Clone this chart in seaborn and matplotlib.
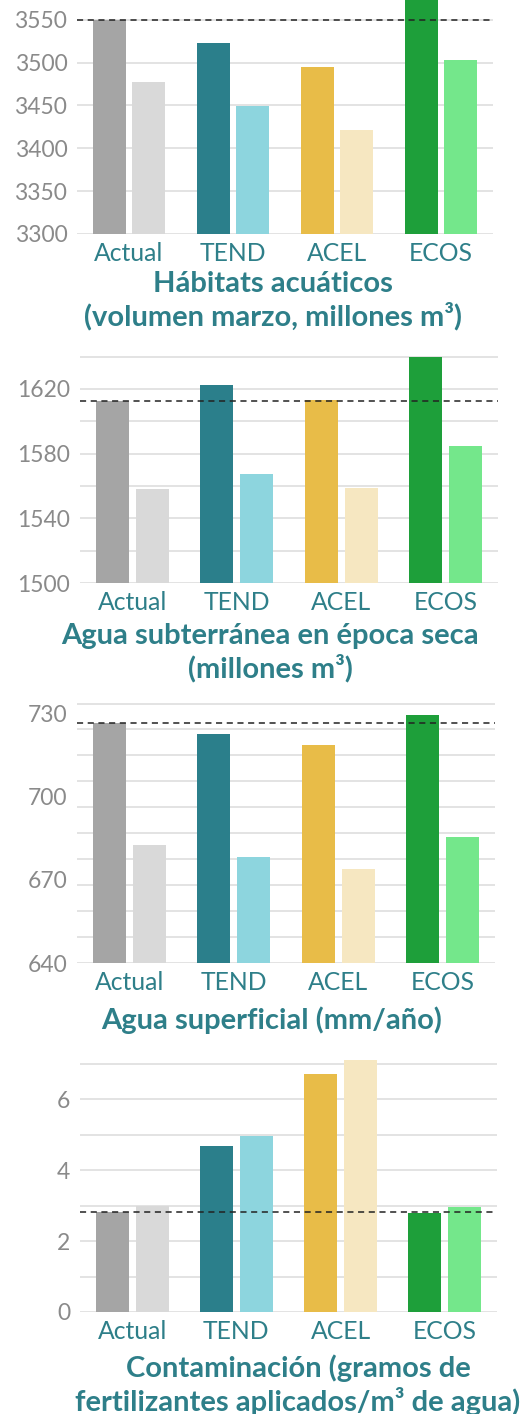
import numpy as np
import pandas as pd
import matplotlib.pyplot as plt
import matplotlib.ticker as mticker
import seaborn as sns

# scenarios and values (dark bar = first series, light bar = second series)
escenarios = ["Actual", "TEND", "ACEL", "ECOS"]
series = ["clima_actual", "cambio_climatico"]

habitat_a = [3550, 3523, 3495, 3590]
habitat_b = [3477, 3449, 3421, 3503]
subterranea_a = [1612.5, 1622.5, 1613, 1640]
subterranea_b = [1558, 1567.5, 1559, 1584.5]
superficial_a = [726.6, 722.5, 718.6, 729.3]
superficial_b = [682.6, 678.3, 674.0, 685.5]
contaminacion_a = [2.82, 4.69, 6.73, 2.80]
contaminacion_b = [3.00, 4.98, 7.10, 2.97]

titulos = [
    "Hábitats acuáticos\n(volumen marzo, millones m³)",
    "Agua subterránea en época seca\n(millones m³)",
    "Agua superficial (mm/año)",
    "Contaminación (gramos de\nfertilizantes aplicados/m³ de agua)",
]

colores_osc = ["#a5a5a5", "#2b7f8b", "#e8bc48", "#1e9f3a"]
colores_cla = ["#d9d9d9", "#8dd5de", "#f6e7c1", "#74e78b"]
teal = "#2e7f89"
gris = "#8a8a8a"

sns.set_style("white")
plt.rcParams["font.family"] = ["Lato", "DejaVu Sans"]

W, H = 524, 1414
fig = plt.figure(figsize=(W / 100, H / 100), dpi=100)


def add_ax(left, top, right, bottom):
    return fig.add_axes([left / W, 1 - bottom / H, (right - left) / W, (bottom - top) / H])


paneles = [
    dict(a=habitat_a, b=habitat_b, box=(77, 0, 493, 234), ylim=(3300, 3573),
         major=np.arange(3300, 3551, 50), minor=[], tcx=273, t_y=301),
    dict(a=subterranea_a, b=subterranea_b, box=(80, 355, 498, 583), ylim=(1500, 1641),
         major=[1500, 1540, 1580, 1620], minor=[1520, 1560, 1600, 1640], tcx=270, t_y=653),
    dict(a=superficial_a, b=superficial_b, box=(77, 703, 495, 963), ylim=(640, 733.8),
         major=[640, 670, 700, 730], minor=list(np.linspace(640, 733.6, 11)), tcx=272, t_y=1020),
    dict(a=contaminacion_a, b=contaminacion_b, box=(80, 1058, 497, 1312), ylim=(0, 7.17),
         major=[0, 2, 4, 6], minor=[1, 3, 5, 7], tcx=298, t_y=1385),
]

for p, titulo in zip(paneles, titulos):
    ax = add_ax(*p["box"])
    df = pd.DataFrame({
        "escenario": escenarios * 2,
        "valor": p["a"] + p["b"],
        "serie": [series[0]] * 4 + [series[1]] * 4,
    })
    sns.barplot(data=df, x="escenario", y="valor", hue="serie", order=escenarios,
                hue_order=series, width=0.766, gap=0.17, errorbar=None,
                legend=False, ax=ax, linewidth=0, zorder=2)
    for bar, c in zip(ax.containers[0], colores_osc):
        bar.set_facecolor(c)
    for bar, c in zip(ax.containers[1], colores_cla):
        bar.set_facecolor(c)

    ax.set_ylim(*p["ylim"])
    ax.set_xlim(-0.5, 3.5)
    ax.yaxis.set_major_locator(mticker.FixedLocator(p["major"]))
    ax.yaxis.set_minor_locator(mticker.FixedLocator(p["minor"]))
    grid_kw = dict(color="#e3e3e3", linewidth=1.4, zorder=0)
    if p is paneles[2]:
        ax.grid(False)
        for v in p["minor"]:
            ax.axhline(v, **grid_kw)
    else:
        for v in list(p["major"]) + list(p["minor"]):
            ax.axhline(v, **grid_kw)
    ax.axhline(p["a"][0], color="#222222", linewidth=1.1, linestyle=(0, (4, 3)), zorder=3)

    sns.despine(ax=ax, left=True, bottom=True)
    ax.tick_params(axis="y", length=0, pad=7, labelsize=16.5, labelcolor=gris)
    ax.tick_params(axis="y", which="minor", length=0)
    ax.tick_params(axis="x", length=0, pad=5.5, labelsize=17.8, labelcolor=teal)
    ax.set_ylabel("")
    ax.set_xlabel("")

    fig.text(p["tcx"] / W, 1 - p["t_y"] / H, titulo, ha="center", va="center",
             fontsize=21, fontweight="bold", color=teal, linespacing=1.2)

fig.savefig("out.png", dpi=100)
